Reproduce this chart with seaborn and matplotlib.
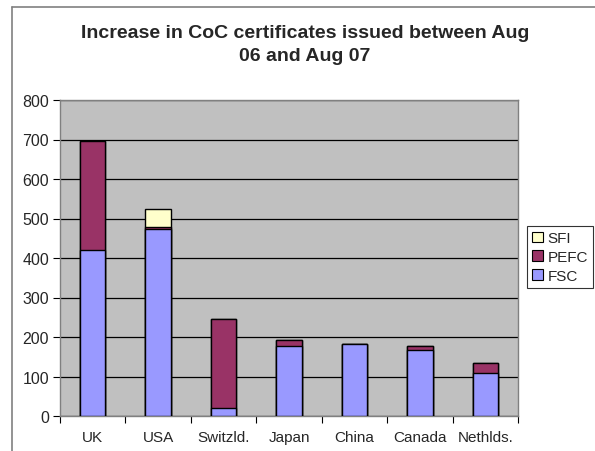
import numpy as np
import pandas as pd
import matplotlib
matplotlib.use("Agg")
import matplotlib.pyplot as plt
import seaborn as sns
from matplotlib.patches import Patch
from matplotlib.lines import Line2D

countries = ["UK", "USA", "Switzld.", "Japan", "China", "Canada", "Nethlds."]
fsc = [420, 473, 20, 176, 183, 168, 108]
pefc = [276, 5, 225, 16, 0, 8, 26]
sfi = [0, 45, 0, 0, 0, 0, 0]
colors = {"FSC": "#9999FF", "PEFC": "#993366", "SFI": "#FFFFCC"}
title = "Increase in CoC certificates issued between Aug\n06 and Aug 07"
yticks = [0, 100, 200, 300, 400, 500, 600, 700, 800]

sns.set_theme(style="white")
plt.rcParams["font.family"] = ["Liberation Sans", "DejaVu Sans"]

df = pd.DataFrame({"country": countries, "FSC": fsc, "PEFC": pefc, "SFI": sfi})
df["cum_FSC"] = df["FSC"]
df["cum_PEFC"] = df["FSC"] + df["PEFC"]
df["cum_SFI"] = df["cum_PEFC"] + df["SFI"]

fig = plt.figure(figsize=(5.95, 4.52), dpi=100)
ax = fig.add_axes([60/595, 1-417/452, (518-60)/595, (417-101)/452])
ax.set_facecolor("#C0C0C0")

# stacked bars: draw cumulative totals from top series down
for name in ["SFI", "PEFC", "FSC"]:
    sns.barplot(data=df, x="country", y="cum_" + name,
                order=countries, color=colors[name], saturation=1,
                width=0.39, edgecolor="black", linewidth=1.0, ax=ax, zorder=3)

ax.set_ylim(0, 800)
ax.set_xlim(-0.5, len(countries) - 0.5)
ax.set_yticks(yticks)
ax.yaxis.grid(True, color="black", linewidth=0.9, zorder=0)
ax.set_axisbelow(True)
ax.set_xlabel("")
ax.set_ylabel("")
ax.set_xticks(range(len(countries)))
ax.set_xticklabels(countries, fontsize=11)
ax.tick_params(axis="x", length=0, pad=10)
ax.tick_params(axis="y", left=True, length=5, width=0.8, color="black", labelsize=11.5, pad=3)
ax.set_xticks(np.arange(-0.5, len(countries), 1), minor=True)
ax.tick_params(axis="x", which="minor", bottom=True, length=5, width=0.8, color="black")
for s in ax.spines.values():
    s.set_color("#808080")
    s.set_linewidth(1.0)

fig.text(305/595, 1-45/452, title, ha="center", va="center", fontsize=14,
         fontweight="bold", linespacing=1.45)

handles = [Patch(facecolor=colors[n], edgecolor="black", linewidth=0.8, label=n)
           for n in ["SFI", "PEFC", "FSC"]]
leg = fig.legend(handles=handles, loc="upper left",
                 bbox_to_anchor=(527/595, 1-227/452), frameon=True, fancybox=False,
                 fontsize=11, handlelength=0.7, handleheight=0.7,
                 handletextpad=0.3, borderpad=0.35, labelspacing=0.3,
                 borderaxespad=0)
leg.get_frame().set_edgecolor("black")
leg.get_frame().set_linewidth(0.8)

fig.add_artist(Line2D([12/595, 12/595], [0, 1-8/452], transform=fig.transFigure,
                      color="#808080", linewidth=1.2))
fig.add_artist(Line2D([12/595, 1], [1-8/452, 1-8/452], transform=fig.transFigure,
                      color="#808080", linewidth=1.2))

fig.savefig("out.png", dpi=100)
